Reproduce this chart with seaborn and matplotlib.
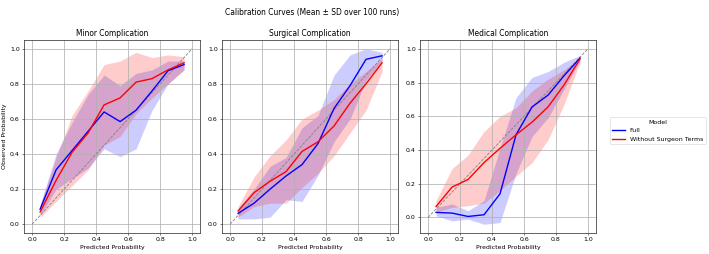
import numpy as np
import pandas as pd
import matplotlib
matplotlib.use("Agg")
import matplotlib.pyplot as plt
import seaborn as sns

# bin centres (predicted probability)
bins = [0.05, 0.15, 0.25, 0.35, 0.45, 0.55, 0.65, 0.75, 0.85, 0.95]
outcomes = ["Minor Complication", "Surgical Complication", "Medical Complication"]
models = ["Full", "Without Surgeon Terms"]

# mean observed probability per bin
minor_full = [0.085, 0.31, 0.42, 0.53, 0.64, 0.585, 0.65, 0.76, 0.875, 0.91]
minor_nosurg = [0.07, 0.25, 0.41, 0.52, 0.68, 0.72, 0.81, 0.83, 0.88, 0.92]
surg_full = [0.062, 0.12, 0.20, 0.275, 0.34, 0.46, 0.66, 0.79, 0.94, 0.96]
surg_nosurg = [0.075, 0.18, 0.245, 0.30, 0.415, 0.47, 0.56, 0.69, 0.80, 0.92]
med_full = [0.03, 0.026, 0.006, 0.016, 0.14, 0.49, 0.655, 0.725, 0.84, 0.945]
med_nosurg = [0.065, 0.18, 0.225, 0.325, 0.41, 0.49, 0.565, 0.655, 0.785, 0.94]

# mean +/- SD band edges
minor_full_lo = [0.05, 0.20, 0.26, 0.32, 0.43, 0.385, 0.43, 0.65, 0.80, 0.88]
minor_full_hi = [0.11, 0.40, 0.58, 0.74, 0.85, 0.79, 0.86, 0.88, 0.93, 0.93]
minor_nosurg_lo = [0.04, 0.13, 0.22, 0.31, 0.45, 0.50, 0.63, 0.72, 0.80, 0.88]
minor_nosurg_hi = [0.11, 0.38, 0.62, 0.76, 0.91, 0.93, 0.98, 0.95, 0.965, 0.955]
surg_full_lo = [0.03, 0.03, 0.04, 0.14, 0.13, 0.28, 0.47, 0.60, 0.82, 0.93]
surg_full_hi = [0.09, 0.20, 0.33, 0.38, 0.55, 0.62, 0.85, 0.965, 1.0, 0.98]
surg_nosurg_lo = [0.04, 0.10, 0.12, 0.12, 0.21, 0.29, 0.39, 0.52, 0.65, 0.87]
surg_nosurg_hi = [0.10, 0.27, 0.39, 0.48, 0.60, 0.65, 0.71, 0.80, 0.87, 0.945]
med_full_lo = [0.01, -0.02, -0.01, -0.04, -0.03, 0.26, 0.48, 0.59, 0.76, 0.93]
med_full_hi = [0.06, 0.08, 0.04, 0.10, 0.41, 0.71, 0.83, 0.865, 0.92, 0.96]
med_nosurg_lo = [0.03, 0.06, 0.07, 0.085, 0.16, 0.245, 0.325, 0.46, 0.67, 0.92]
med_nosurg_hi = [0.10, 0.29, 0.37, 0.51, 0.60, 0.65, 0.75, 0.82, 0.875, 0.945]

means = {
    "Minor Complication": [minor_full, minor_nosurg],
    "Surgical Complication": [surg_full, surg_nosurg],
    "Medical Complication": [med_full, med_nosurg],
}
lows = {
    "Minor Complication": [minor_full_lo, minor_nosurg_lo],
    "Surgical Complication": [surg_full_lo, surg_nosurg_lo],
    "Medical Complication": [med_full_lo, med_nosurg_lo],
}
highs = {
    "Minor Complication": [minor_full_hi, minor_nosurg_hi],
    "Surgical Complication": [surg_full_hi, surg_nosurg_hi],
    "Medical Complication": [med_full_hi, med_nosurg_hi],
}

palette = {"Full": "blue", "Without Surgeon Terms": "red"}

rows = []
for outc in outcomes:
    for m, vals in zip(models, means[outc]):
        for b, v in zip(bins, vals):
            rows.append({"outcome": outc, "Model": m, "pred": b, "obs": v})
df = pd.DataFrame(rows)

plt.rcParams["axes.edgecolor"] = "#333333"
plt.rcParams["axes.linewidth"] = 1.2
plt.rcParams["grid.color"] = "#b0b0b0"
plt.rcParams["grid.linewidth"] = 1.2

fig, axes = plt.subplots(1, 3, figsize=(709 / 45, 254 / 45), dpi=45)
fig.subplots_adjust(left=0.034, right=0.8406, bottom=0.0827, top=0.8425, wspace=0.125)

for ax, outc in zip(axes, outcomes):
    ax.plot([0, 1], [0, 1], linestyle="--", color="gray", linewidth=1.3)
    sub = df[df["outcome"] == outc]
    sns.lineplot(data=sub, x="pred", y="obs", hue="Model", hue_order=models,
                 palette=palette, ax=ax, legend=False, linewidth=2.2)
    for i, m in enumerate(models):
        ax.fill_between(bins, lows[outc][i], highs[outc][i], color=palette[m], alpha=0.2, linewidth=0)
    ax.set_title(outc)
    ax.set_xlabel("Predicted Probability")
    ax.set_ylabel("")
    ax.grid(True)

axes[0].set_ylabel("Observed Probability")

handles = [plt.Line2D([], [], color=palette[m], linewidth=2.2) for m in models]
axes[2].legend(handles, models, title="Model", loc="center left", bbox_to_anchor=(1.06, 0.53))

fig.suptitle("Calibration Curves (Mean ± SD over 100 runs)", x=0.44, y=0.97)

plt.savefig("out.png", dpi=45)
